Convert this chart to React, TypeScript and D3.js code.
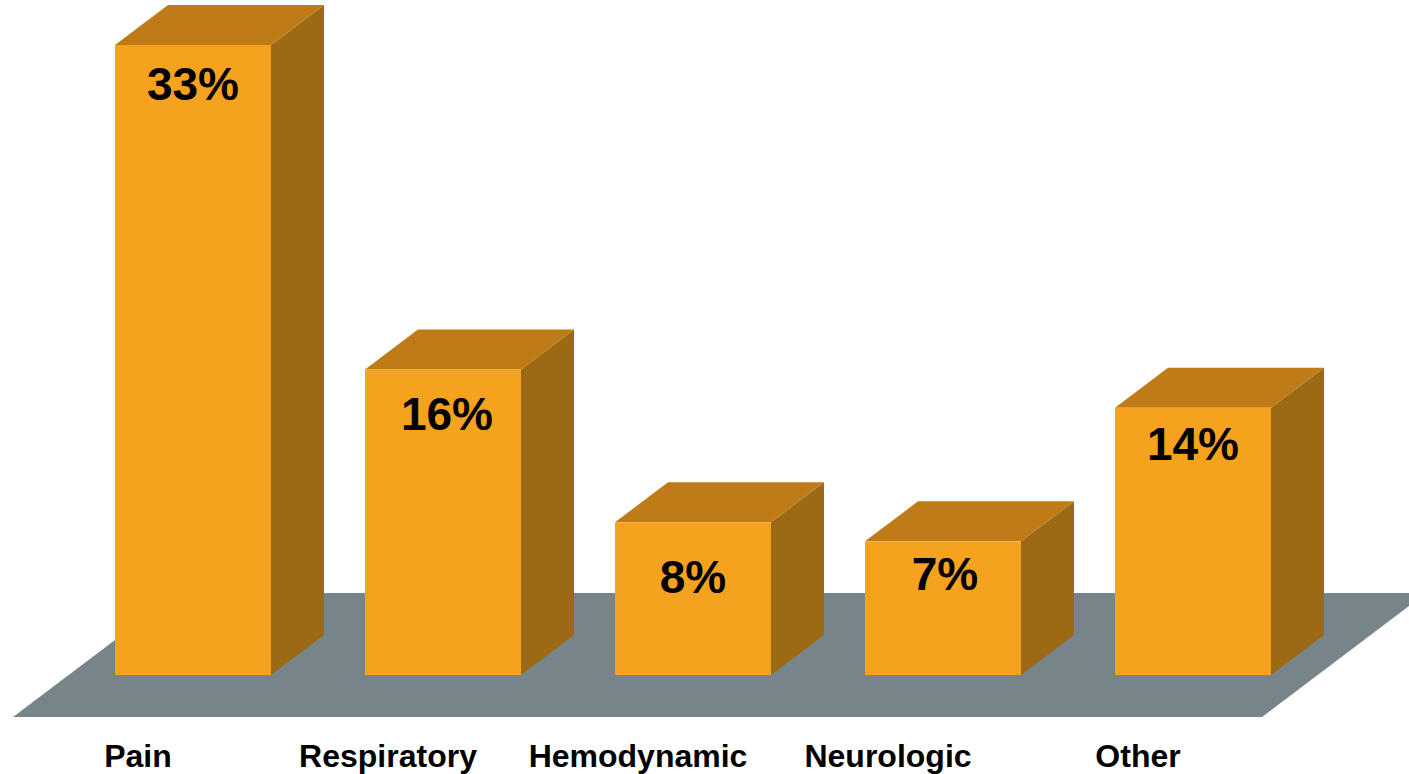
import React from "react";
import * as d3 from "d3";

const categories = ["Pain", "Respiratory", "Hemodynamic", "Neurologic", "Other"];
const values = [33, 16, 8, 7, 14];
const valueLabels = ["33%", "16%", "8%", "7%", "14%"];

const W = 1409;
const H = 774;
const base = 675;
const DX = 53;
const DY = 40;

export default function App() {
  const x = d3.scaleBand<string>().domain(categories).range([115, 1271]).paddingInner(0.376).paddingOuter(0);
  const y = d3.scaleLinear().domain([0, 33]).range([base, 45]);
  const bw = x.bandwidth();
  // vertical placement of the value label below each bar's top edge (layout)
  const labelDy = [55, 60, 71, 49, 52];
  const labelDx = [0, 4, 0, 2, 0];

  const floorBottom = 717;
  const floorTop = 593;
  const fdx = ((floorBottom - floorTop) * DX) / DY;
  const floor = [
    [13, floorBottom],
    [1262, floorBottom],
    [1262 + fdx, floorTop],
    [13 + fdx, floorTop],
  ];
  const line = d3.line();

  return (
    <svg width={W} height={H} style={{ position: "absolute", left: 0, top: 0, background: "#fff" }}>
      <path d={line(floor as [number, number][]) + "Z"} fill="#77858A" />
      {categories.map((c, i) => {
        const x0 = x(c)!;
        const x1 = x0 + bw;
        const yt = y(values[i]);
        const top: [number, number][] = [[x0, yt], [x1, yt], [x1 + DX, yt - DY], [x0 + DX, yt - DY]];
        const side: [number, number][] = [[x1, yt], [x1 + DX, yt - DY], [x1 + DX, base - DY], [x1, base]];
        return (
          <g key={c}>
            <path d={line(side) + "Z"} fill="#9C6914" />
            <path d={line(top) + "Z"} fill="#BE7B17" />
            <rect x={x0} y={yt} width={bw} height={base - yt} fill="#F5A21E" />
            <text
              x={x0 + bw / 2 + labelDx[i]}
              y={yt + labelDy[i]}
              textAnchor="middle"
              fontFamily="'Liberation Sans', Arial, sans-serif"
              fontWeight="bold"
              fontSize={46}
              fill="#000"
            >
              {valueLabels[i]}
            </text>
            <text
              x={x0 + bw / 2 - 55}
              y={767}
              textAnchor="middle"
              fontFamily="'Liberation Sans', Arial, sans-serif"
              fontWeight="bold"
              fontSize={32}
              fill="#000"
            >
              {c}
            </text>
          </g>
        );
      })}
    </svg>
  );
}
